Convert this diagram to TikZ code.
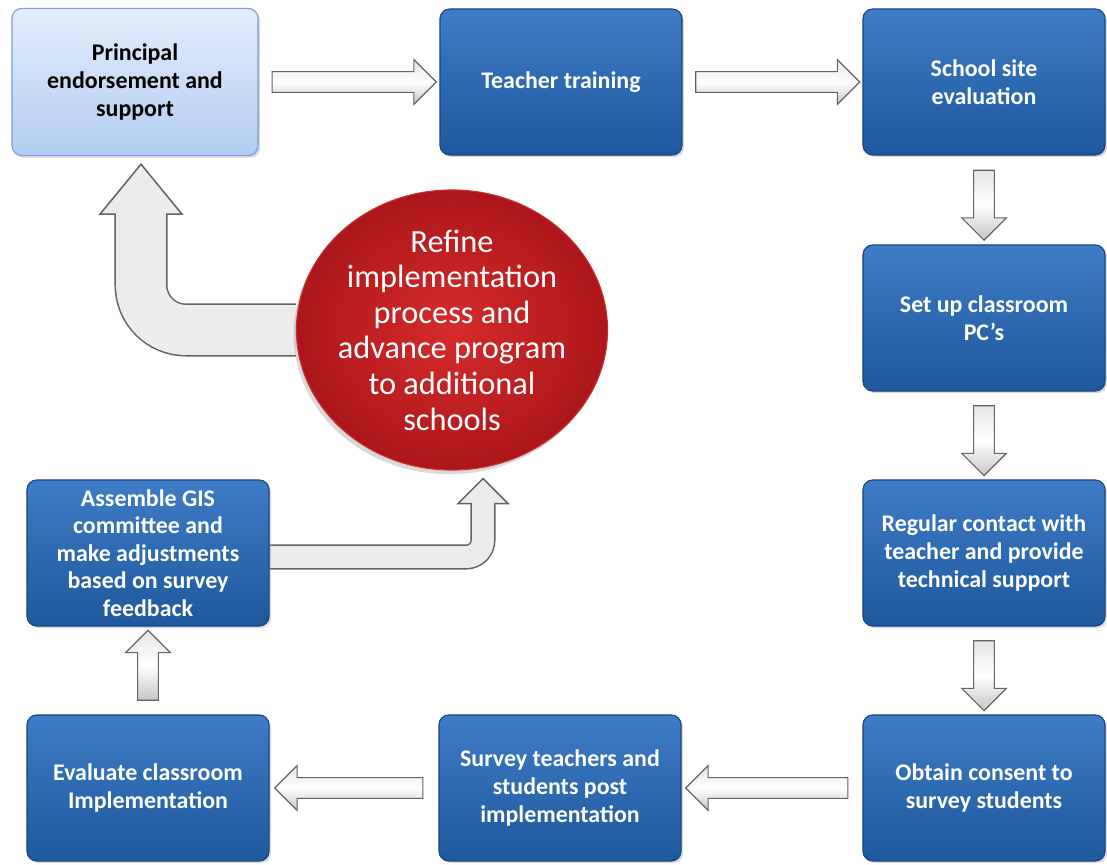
\documentclass[tikz,border=0pt]{standalone}
\usepackage{fontspec}
\setmainfont{Carlito}
\usetikzlibrary{shapes.geometric,shapes.arrows,shadows,calc,backgrounds}

\definecolor{boxtop}{RGB}{62,124,198}
\definecolor{boxbot}{RGB}{30,88,156}
\definecolor{boxline}{RGB}{25,70,130}
\definecolor{paletop}{RGB}{228,238,252}
\definecolor{palebot}{RGB}{178,204,240}
\definecolor{paleline}{RGB}{120,160,215}
\definecolor{refinein}{RGB}{214,44,44}
\definecolor{refineout}{RGB}{172,22,26}
\definecolor{refineline}{RGB}{205,45,45}
\definecolor{arrowline}{RGB}{100,100,100}
\definecolor{arrowfill}{RGB}{236,236,236}

\tikzset{
	stepbox/.style={rectangle, rounded corners=7pt, draw=boxline, line width=0.8pt,
		top color=boxtop, bottom color=boxbot, text=white,
		minimum width=6.05cm, minimum height=3.65cm, align=center,
		font=\fontsize{17}{19.6}\selectfont\bfseries,
		drop shadow={opacity=0.3, shadow xshift=1.5pt, shadow yshift=-1.5pt}},
	startbox/.style={stepbox, draw=paleline, top color=paletop, bottom color=palebot, text=black},
	refineball/.style={ellipse, inner sep=0pt, minimum width=7.775cm, minimum height=7cm,
		draw=refineline, line width=0.8pt, inner color=refinein, outer color=refineout,
		drop shadow={opacity=0.3, shadow xshift=-2pt, shadow yshift=-3pt}},
	refinetext/.style={align=center, text=white, font=\fontsize{23}{25.3}\selectfont},
	hollow/.style={single arrow, draw=arrowline, line width=0.8pt,
		top color=gray!20, bottom color=gray!45, middle color=white,
		inner sep=0pt, inner ysep=7pt, single arrow head extend=8.5pt,
		minimum height=#1, sloped, allow upside down},
	hollow/.default=4.1cm,
	shaftedge/.style={draw=arrowline},
	shaftbody/.style={draw=arrowfill},
	headtip/.style={fill=arrowfill, draw=arrowline, line width=1.1pt, line join=miter},
}

\begin{document}
\begin{tikzpicture}[x=0.025cm, y=-0.025cm]
	\useasboundingbox (0,0) rectangle (1107,865);

	% the cycle of steps
	\node[startbox, minimum width=6.15cm, minimum height=3.68cm] (princ) at (135,82) {Principal\\endorsement and\\support};
	\node[stepbox] (teach) at (561,82) {Teacher training};
	\node[stepbox] (site) at (984,82) {School site\\evaluation};
	\node[stepbox] (setup) at (984,318) {Set up classroom\\PC’s};
	\node[stepbox] (contact) at (984,553) {Regular contact with\\teacher and provide\\technical support};
	\node[stepbox] (consent) at (984,788) {Obtain consent to\\survey students};
	\node[stepbox] (survey) at (560,788) {Survey teachers and\\students post\\implementation};
	\node[stepbox] (evalu) at (148,788) {Evaluate classroom\\Implementation};
	\node[stepbox] (assemble) at (148,553) {Assemble GIS\\committee and\\make adjustments\\based on survey\\feedback};

	% centre
	\node[refineball] (refine) at (452,330) {};
	\node[refinetext] (refinetxt) at (refine) {Refine\\implementation\\process and\\advance program\\to additional\\schools};

	\begin{scope}[on background layer]
		\path (princ) -- node[hollow] (a1) {} (teach);
		\path (teach) -- node[hollow] (a2) {} (site);
		\path (site) -- node[hollow=1.75cm] (a3) {} (setup);
		\path (setup) -- node[hollow=1.75cm] (a4) {} (contact);
		\path (contact) -- node[hollow=1.75cm] (a5) {} (consent);
		\path (consent) -- node[hollow=4.05cm] (a6) {} (survey);
		\path (survey) -- node[hollow=3.7cm] (a7) {} (evalu);
		\path (evalu) -- node[hollow=1.75cm] (a8) {} (assemble);

		% feedback into the centre
		\coordinate (feedtip) at ($(refine.south)+(31,8)$);
		\coordinate (feedbase) at ($(feedtip)+(0,25)$);
		\draw[shaftedge, line width=17.8pt, rounded corners=12pt] ($(assemble.east)+(0,4)$) -| (feedbase);
		\filldraw[headtip] (feedtip) -- ($(feedbase)+(-25,0)$) -- ($(feedbase)+(25,0)$) -- cycle;
		\draw[shaftbody, line width=15.6pt, rounded corners=12pt, shorten >=-3pt] ($(assemble.east)+(0,4)$) -| (feedbase);

		% back to the start
		\coordinate (backtip) at ($(princ.south)+(6,8)$);
		\coordinate (backbase) at ($(backtip)+(0,50)$);
		\draw[shaftedge, line width=37.7pt, rounded corners=32pt] (refine.west) -| (backbase);
		\filldraw[headtip] (backtip) -- ($(backbase)+(-41,0)$) -- ($(backbase)+(41,0)$) -- cycle;
		\draw[shaftbody, line width=35.5pt, rounded corners=32pt, shorten >=-4pt] (refine.west) -| (backbase);
	\end{scope}
\end{tikzpicture}
\end{document}
